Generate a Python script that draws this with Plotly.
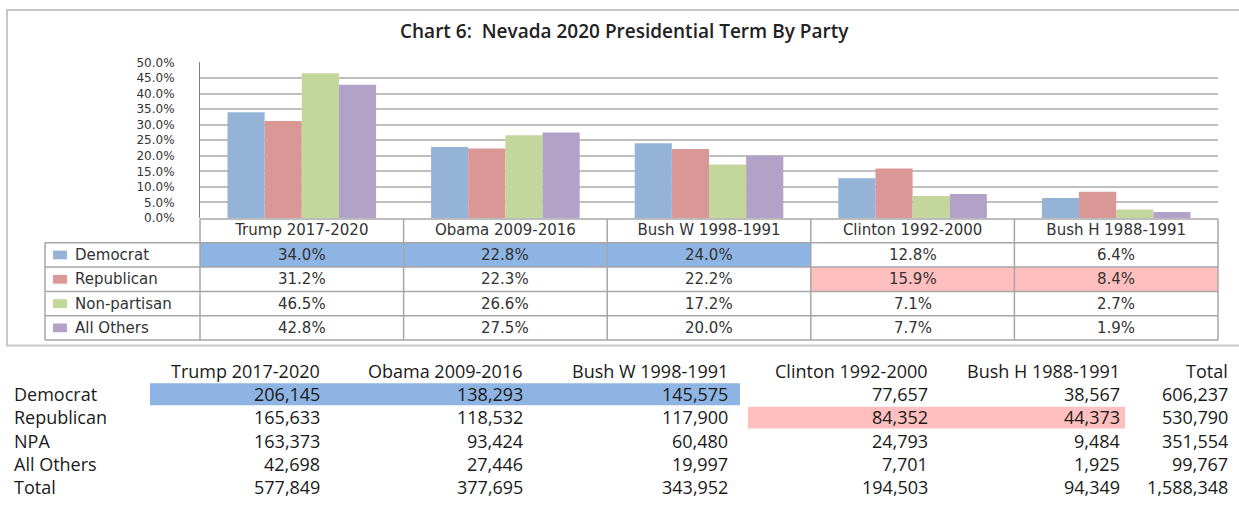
import plotly.graph_objects as go

# ---------------- data ----------------
terms = ["Trump 2017-2020", "Obama 2009-2016", "Bush W 1998-1991",
         "Clinton 1992-2000", "Bush H 1988-1991"]
parties = ["Democrat", "Republican", "Non-partisan", "All Others"]
dem_pct = [34.0, 22.8, 24.0, 12.8, 6.4]
rep_pct = [31.2, 22.3, 22.2, 15.9, 8.4]
npa_pct = [46.5, 26.6, 17.2, 7.1, 2.7]
oth_pct = [42.8, 27.5, 20.0, 7.7, 1.9]
party_colors = ["#95B3D7", "#D99795", "#C3D69B", "#B3A2C7"]

# highlighted cells in the data table: (row index, column index)
pct_highlight_blue = [(0, 0), (0, 1), (0, 2)]
pct_highlight_pink = [(1, 3), (1, 4)]

count_cols = ["Trump 2017-2020", "Obama 2009-2016", "Bush W 1998-1991",
              "Clinton 1992-2000", "Bush H 1988-1991", "Total"]
count_rows = ["Democrat", "Republican", "NPA", "All Others", "Total"]
dem_counts = [206145, 138293, 145575, 77657, 38567, 606237]
rep_counts = [165633, 118532, 117900, 84352, 44373, 530790]
npa_counts = [163373, 93424, 60480, 24793, 9484, 351554]
oth_counts = [42698, 27446, 19997, 7701, 1925, 99767]
tot_counts = [577849, 377695, 343952, 194503, 94349, 1588348]

title_text = "Chart 6:  Nevada 2020 Presidential Term By Party"

# ---------------- layout helpers ----------------
W, H = 1239, 507
def px(x):
    return x / W
def py(y):
    return 1 - y / H

PLOT_L, PLOT_R, PLOT_T, PLOT_B = 200, 1218, 57, 217
LEG_L = 45
ROW_H = 25
HEAD_T, HEAD_B = 218, 242.5
slot = (PLOT_R - PLOT_L) / len(terms)

BLUE_HL = "#8DB4E2"
PINK_HL = "#FFBFBF"
GRID = "#A6A6A6"
TXT = "#333333"
TFONT = "DejaVu Sans"
TSIZE = 15
BFONT = "Open Sans"
BSIZE = 18
BCOL = "#1A1A1A"

pct_series = [dem_pct, rep_pct, npa_pct, oth_pct]
count_series = [dem_counts, rep_counts, npa_counts, oth_counts, tot_counts]

fig = go.Figure()
for name, vals, col in zip(parties, pct_series, party_colors):
    fig.add_trace(go.Bar(
        x=terms, y=[v / 100 for v in vals], name=name,
        marker=dict(color=col, line=dict(width=0)),
        hovertemplate="%{x}<br>" + name + ": %{y:.1%}<extra></extra>"))

shapes = []
annotations = []

# outer chart frame
shapes.append(dict(type="rect", xref="paper", yref="paper",
                   x0=px(7), x1=px(1250), y0=py(348), y1=py(3),
                   line=dict(color="#C8C8C8", width=2), layer="below"))

# title
annotations.append(dict(text=title_text, xref="paper", yref="paper",
                        x=px(624), y=py(25), xanchor="center", yanchor="middle",
                        showarrow=False,
                        font=dict(family=BFONT, size=19, color="#222222", weight=600)))

# ---- data table under the chart ----
for (r, c) in pct_highlight_blue:
    top = HEAD_B + r * ROW_H
    shapes.append(dict(type="rect", xref="paper", yref="paper",
                       x0=px(PLOT_L + c * slot), x1=px(PLOT_L + (c + 1) * slot),
                       y0=py(top + ROW_H), y1=py(top),
                       fillcolor=BLUE_HL, line=dict(width=0), layer="below"))
for (r, c) in pct_highlight_pink:
    top = HEAD_B + r * ROW_H
    shapes.append(dict(type="rect", xref="paper", yref="paper",
                       x0=px(PLOT_L + c * slot), x1=px(PLOT_L + (c + 1) * slot),
                       y0=py(top + ROW_H), y1=py(top),
                       fillcolor=PINK_HL, line=dict(width=0), layer="below"))

table_bottom = HEAD_B + len(parties) * ROW_H
shapes.append(dict(type="line", xref="paper", yref="paper",
                   x0=px(PLOT_L), x1=px(PLOT_R), y0=py(HEAD_T), y1=py(HEAD_T),
                   line=dict(color=GRID, width=1.5)))
for r in range(len(parties) + 1):
    yy = HEAD_B + r * ROW_H
    shapes.append(dict(type="line", xref="paper", yref="paper",
                       x0=px(LEG_L), x1=px(PLOT_R), y0=py(yy), y1=py(yy),
                       line=dict(color=GRID, width=1.5)))
shapes.append(dict(type="line", xref="paper", yref="paper",
                   x0=px(LEG_L), x1=px(LEG_L), y0=py(table_bottom), y1=py(HEAD_B),
                   line=dict(color=GRID, width=1.5)))
for c in range(len(terms) + 1):
    xx = PLOT_L + c * slot
    shapes.append(dict(type="line", xref="paper", yref="paper",
                       x0=px(xx), x1=px(xx), y0=py(table_bottom), y1=py(HEAD_T),
                       line=dict(color=GRID, width=1.5)))

for r, (name, vals, col) in enumerate(zip(parties, pct_series, party_colors)):
    cy = HEAD_B + r * ROW_H + ROW_H / 2
    shapes.append(dict(type="rect", xref="paper", yref="paper",
                       x0=px(53), x1=px(67), y0=py(cy + 4.5), y1=py(cy - 4.5),
                       fillcolor=col, line=dict(width=0)))
    annotations.append(dict(text=name, xref="paper", yref="paper",
                            x=px(73), y=py(cy), xanchor="left", yanchor="middle",
                            showarrow=False, font=dict(family=TFONT, size=TSIZE, color=TXT)))
    for c, v in enumerate(vals):
        annotations.append(dict(text=f"{v:.1f}%", xref="paper", yref="paper",
                                x=px(PLOT_L + (c + 0.5) * slot), y=py(cy),
                                xanchor="center", yanchor="middle", showarrow=False,
                                font=dict(family=TFONT, size=TSIZE, color=TXT)))

# ---- count table at the bottom ----
col_right = [322, 525, 730, 930, 1122, 1230]
row_y = [398, 422, 446, 470, 494]
head_y = 374
shapes.append(dict(type="rect", xref="paper", yref="paper",
                   x0=px(150), x1=px(740), y0=py(row_y[0] + 11.5), y1=py(row_y[0] - 11),
                   fillcolor=BLUE_HL, line=dict(width=0), layer="below"))
shapes.append(dict(type="rect", xref="paper", yref="paper",
                   x0=px(748), x1=px(1125), y0=py(row_y[1] + 11.5), y1=py(row_y[1] - 11),
                   fillcolor=PINK_HL, line=dict(width=0), layer="below"))
for c, lab in enumerate(count_cols):
    annotations.append(dict(text=lab, xref="paper", yref="paper",
                            x=px(col_right[c]), y=py(head_y), xanchor="right", yanchor="middle",
                            showarrow=False, font=dict(family=BFONT, size=BSIZE, color=BCOL)))
for r, (lab, vals) in enumerate(zip(count_rows, count_series)):
    annotations.append(dict(text=lab, xref="paper", yref="paper",
                            x=px(12), y=py(row_y[r]), xanchor="left", yanchor="middle",
                            showarrow=False, font=dict(family=BFONT, size=BSIZE, color=BCOL)))
    for c, v in enumerate(vals):
        annotations.append(dict(text=f"{v:,}", xref="paper", yref="paper",
                                x=px(col_right[c]), y=py(row_y[r]), xanchor="right",
                                yanchor="middle", showarrow=False,
                                font=dict(family=BFONT, size=BSIZE, color=BCOL)))

fig.update_layout(
    width=W, height=H,
    margin=dict(l=0, r=0, t=0, b=0),
    paper_bgcolor="white", plot_bgcolor="white",
    showlegend=False,
    barmode="group", bargap=0.27, bargroupgap=0,
    xaxis=dict(domain=[px(PLOT_L), px(PLOT_R)], type="category",
               showgrid=False, showline=False, zeroline=False, ticks="",
               tickfont=dict(family=TFONT, size=TSIZE, color=TXT),
               ticklabelstandoff=1, fixedrange=True),
    yaxis=dict(domain=[py(PLOT_B), py(PLOT_T)], range=[0, 0.5], dtick=0.05,
               tickformat=".1%", showgrid=True, gridcolor="#BFBFBF", gridwidth=1.5,
               showline=True, linecolor="#808080", linewidth=1, zeroline=False,
               ticks="", tickfont=dict(family=TFONT, size=12, color=TXT),
               ticklabelstandoff=22, fixedrange=True),
    shapes=shapes,
    annotations=annotations,
)

post = ("var st=document.createElement('style');"
        "st.textContent='html,body{margin:0!important;padding:0!important;overflow:hidden;}';"
        "document.head.appendChild(st);"
        "var gd=document.getElementById('{plot_id}');"
        "gd.style.position='absolute';gd.style.top='0px';gd.style.left='0px';gd.style.margin='0';")

fig.write_html("out.html", config={"displayModeBar": False}, post_script=post)
